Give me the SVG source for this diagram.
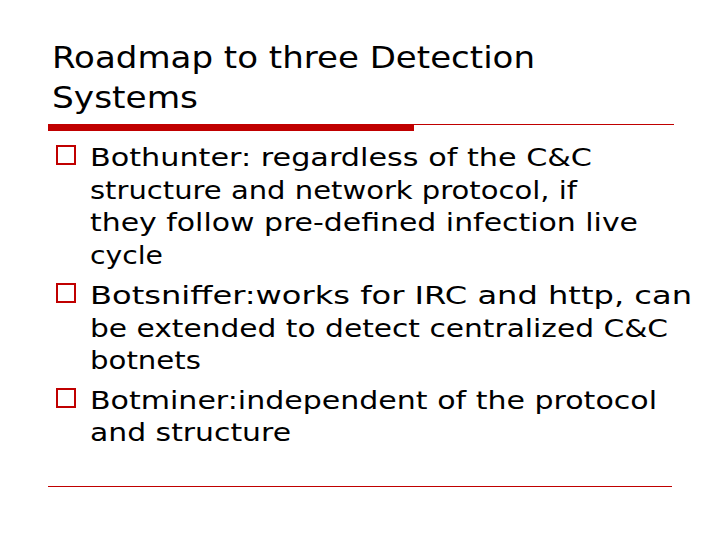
<svg xmlns="http://www.w3.org/2000/svg" width="720" height="540" viewBox="0 0 720 540">
<style>
.t{font-family:"DejaVu Sans",sans-serif;font-size:31px;fill:#000}
.b{font-family:"DejaVu Sans",sans-serif;font-size:25px;fill:#000}
.bx{fill:none;stroke:#c00000;stroke-width:2}
</style>
<rect width="720" height="540" fill="#fff"/>
<g id="title"><text class="t" x="52" y="68" textLength="483" lengthAdjust="spacingAndGlyphs">Roadmap to three Detection</text><text class="t" x="52" y="108" textLength="146" lengthAdjust="spacingAndGlyphs">Systems</text></g>
<g id="rules">
<rect x="48" y="124" width="366" height="7" fill="#c00000"/>
<line x1="414" y1="124.5" x2="674" y2="124.5" stroke="#c00000" stroke-width="1"/>
<line x1="48" y1="486.5" x2="672" y2="486.5" stroke="#c00000" stroke-width="1"/>
</g>
<g id="bullets">
<rect class="bx" x="57" y="146" width="18" height="18"/>
<rect class="bx" x="57" y="284" width="18" height="18"/>
<rect class="bx" x="57" y="389" width="18" height="18"/>
</g>
<g id="body">
<text class="b" x="90" y="166" textLength="502" lengthAdjust="spacingAndGlyphs">Bothunter: regardless of the C&amp;C</text>
<text class="b" x="90" y="199" textLength="487" lengthAdjust="spacingAndGlyphs">structure and network protocol, if</text>
<text class="b" x="90" y="231" textLength="548" lengthAdjust="spacingAndGlyphs">they follow pre-defined infection live</text>
<text class="b" x="90" y="264" textLength="73" lengthAdjust="spacingAndGlyphs">cycle</text>
<text class="b" x="90" y="304" textLength="602" lengthAdjust="spacingAndGlyphs">Botsniffer:works for IRC and http, can</text>
<text class="b" x="90" y="337" textLength="578" lengthAdjust="spacingAndGlyphs">be extended to detect centralized C&amp;C</text>
<text class="b" x="90" y="369" textLength="111" lengthAdjust="spacingAndGlyphs">botnets</text>
<text class="b" x="90" y="409" textLength="567" lengthAdjust="spacingAndGlyphs">Botminer:independent of the protocol</text>
<text class="b" x="90" y="441" textLength="201" lengthAdjust="spacingAndGlyphs">and structure</text>
</g>
</svg>
